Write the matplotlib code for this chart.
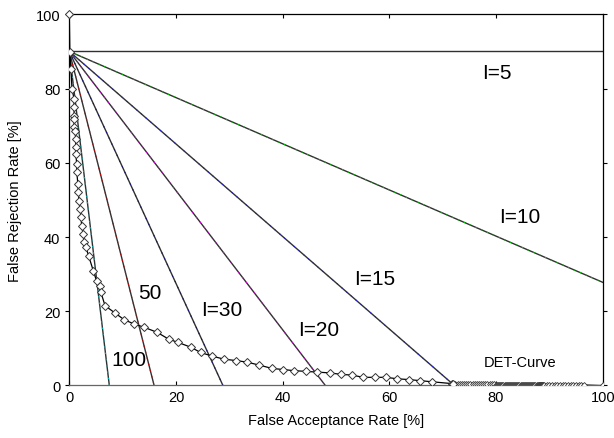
"""
DET curve with iso-cost lines, redrawn from a reference picture.
"""

import matplotlib
matplotlib.use("Agg")
import matplotlib.pyplot as plt

plt.rcParams["font.family"] = ["Liberation Sans", "DejaVu Sans"]

# DET curve (false acceptance %, false rejection %)
det_far = [0, 0.1, 0.3, 0.5, 0.9, 0.9, 0.9, 0.9, 0.9, 1.07, 1.2, 1.2, 1.2, 1.4, 1.4,
           1.6, 1.7, 1.8, 2.0, 2.2, 2.3, 2.6, 2.8, 3.1, 3.6, 4.5, 5.1, 5.8, 5.9, 6.7,
           8.6, 10.3, 12.1, 14.0, 16.5, 18.6, 20.4, 22.8, 24.6, 26.8, 29.0, 31.3, 33.3,
           35.6, 38.0, 40.1, 42.1, 44.4, 46.5, 48.8, 50.9, 53.0, 55.1, 57.3, 59.4, 61.5,
           63.6, 65.8, 68.0, 71.8]
det_frr = [100, 89.9, 85.3, 79.9, 77.2, 75.1, 72.7, 71.8, 69.7, 68.6, 66.4, 64.2, 62.3, 59.7, 57.5,
           54.3, 52.2, 49.8, 47.6, 45.4, 43.1, 40.8, 38.7, 37.3, 35.0, 30.9, 28.2, 26.9, 25.2, 21.5,
           19.5, 17.7, 16.6, 15.7, 14.3, 12.5, 11.6, 10.3, 8.9, 7.9, 7.1, 6.7, 6.3,
           5.5, 4.6, 4.3, 4.0, 3.8, 3.6, 3.4, 3.0, 2.8, 2.2, 2.2, 2.2, 1.8,
           1.6, 1.3, 1.0, 0.5]

# densely sampled tail of the DET curve near FRR = 0
tail_far = [72.0, 72.4, 72.8, 73.2, 73.6, 74.0, 74.4, 74.8, 75.2, 75.6, 76.0, 76.4, 76.8,
            77.2, 77.6, 78.0, 78.4, 78.8, 79.2, 79.6, 80.0, 80.2, 80.4, 80.6, 80.8, 81.0,
            81.2, 81.4, 81.6, 81.8, 82.0, 82.2, 82.4, 82.6, 82.8, 83.0, 83.2, 83.4, 83.6,
            83.8, 84.0, 84.2, 84.4, 84.6, 84.8, 85.0, 85.2, 85.4, 85.6, 85.8, 86.0, 86.2,
            86.4, 86.6, 86.8, 87.0, 87.2, 87.4, 87.6, 87.8, 88.0, 88.1, 88.2, 88.3, 88.4,
            88.5, 88.6, 88.7, 88.8, 88.9, 89.0, 89.5, 90.0, 90.5, 91.0, 91.5, 92.0, 92.5,
            93.0, 93.5, 94.0, 94.5, 95.0, 95.5, 96.0, 96.5, 100.0]
tail_frr = [0.3] * 20 + [0.25] * 40 + [0.15] * 26 + [0.0]

# iso-cost lines: all start at (0, 90)
line_labels = ["I=5", "I=10", "I=15", "I=20", "I=30", "50", "100"]
line_start = [90, 90, 90, 90, 90, 90, 90]
line_end_far = [100, 100, 71.8, 48.0, 28.8, 15.9, 7.5]
line_end_frr = [90, 27.8, 0.5, 0, 0, 0, 0]
line_colors = ["black", "#00c000", "#2020d0", "#d000d0", "#101080", "#d00000", "#00b0b0"]

# label anchor points (data coords)
label_x = [80.1, 84.5, 57.3, 46.7, 28.6, 15.1, 11.1]
label_y = [84.4, 45.4, 28.7, 15.2, 20.6, 25.1, 7.1]


def main():
    fig = plt.figure(figsize=(6.14, 4.39), dpi=100)
    ax = fig.add_axes([0.1129, 0.1196, 0.8687, 0.8455])

    for xe, ye, ys, col in zip(line_end_far, line_end_frr, line_start, line_colors):
        ax.plot([0, xe], [ys, ye], color="#303030", linewidth=1.0, zorder=2)
        if col != "black":
            ax.plot([0, xe], [ys, ye], color=col, linewidth=0.7, dashes=(1.5, 5), zorder=2.5)

    ax.plot(tail_far, tail_frr, color="black", linewidth=0.8, marker="D", markersize=3.0,
            markerfacecolor="white", markeredgecolor="#333333", markeredgewidth=0.6, zorder=3)
    ax.plot(det_far + [tail_far[0]], det_frr + [tail_frr[0]], color="black", linewidth=0.9,
            marker="D", markersize=4.2, markerfacecolor="white", markeredgecolor="#333333",
            markeredgewidth=0.7, zorder=4)
    ax.plot([det_far[0]], [det_frr[0]], marker="D", markersize=4.2, markerfacecolor="white",
            markeredgecolor="#333333", markeredgewidth=0.7, zorder=5, clip_on=False)

    for lab, x, y in zip(line_labels, label_x, label_y):
        ax.text(x, y, lab, fontsize=15, ha="center", va="center", zorder=6)
    ax.text(84.5, 6.3, "DET-Curve", fontsize=10.5, ha="center", va="center", zorder=6)

    ax.set_xlim(0, 100)
    ax.set_ylim(0, 100)
    ax.set_xticks([0, 20, 40, 60, 80, 100])
    ax.set_yticks([0, 20, 40, 60, 80, 100])
    ax.tick_params(axis="both", labelsize=10.5, length=3, width=0.8, colors="black")
    ax.tick_params(axis="x", direction="in", top=True)
    ax.tick_params(axis="y", direction="out", right=True)
    for spine in ax.spines.values():
        spine.set_linewidth(0.9)
        spine.set_color("black")
    ax.spines["bottom"].set_color("#666666")

    ax.set_xlabel("False Acceptance Rate [%]", fontsize=10.5, labelpad=6)
    ax.set_ylabel("False Rejection Rate [%]", fontsize=10.5, labelpad=10)

    fig.savefig("out.png", dpi=100)
    plt.close(fig)


if __name__ == "__main__":
    main()
